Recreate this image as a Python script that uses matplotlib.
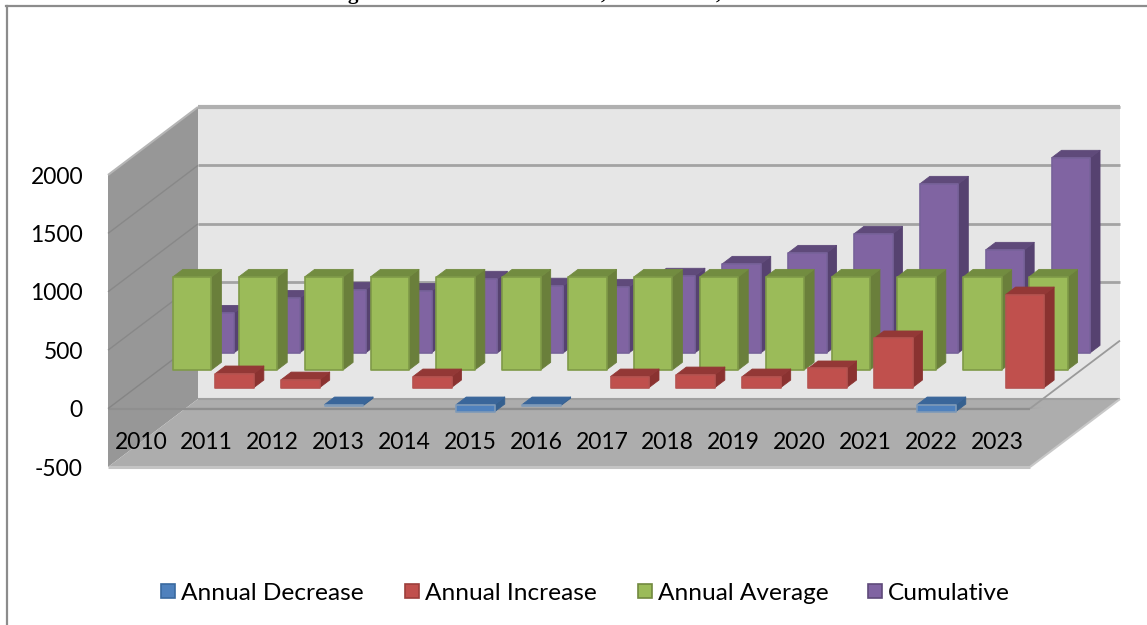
import matplotlib
matplotlib.use('Agg')
import matplotlib.pyplot as plt

years = ['2010','2011','2012','2013','2014','2015','2016','2017','2018','2019','2020','2021','2022','2023']
value_ticks = [-500,0,500,1000,1500,2000]

# values
annual_decrease = [0,0,0,-10,0,-60,-10,0,0,0,0,0,-60,0]
annual_increase = [0,120,68,0,94,0,0,94,111,94,163,420,0,796]
annual_average = [796]*14
cumulative = [342,470,540,530,634,575,565,660,762,856,1019,1447,882,1670]

W, H = 1147, 625
fig = plt.figure(figsize=(W/100, H/100), dpi=100)
plt.rcParams['font.family'] = ['Lato', 'DejaVu Sans']

# front plane of the box in pixels: x 108..1030, y 175..467
ax = fig.add_axes([108/W, 1-467/H, (1030-108)/W, (467-175)/H])
ax.set_xlim(0, 14)
ax.set_ylim(-500, 2000)
for s in ax.spines.values():
    s.set_visible(False)
ax.patch.set_visible(False)

# how far the back of the box sits from the front, in data units
px_x = 14/(1030-108)
px_y = 2500/(467-175)
DX = 90*px_x
DY = 68*px_y
BAR_W = 38.5*px_x

def pt(x, v, d):
    return (x + d*DX, v + d*DY)

def poly(points, face, edge='none', lw=0, z=1):
    xs = [p[0] for p in points]
    ys = [p[1] for p in points]
    ax.fill(xs, ys, facecolor=face, edgecolor=edge, linewidth=lw, clip_on=False, zorder=z, joinstyle='round')

def seg(a, b, color, lw=1.5, z=1.2):
    ax.plot([a[0],b[0]], [a[1],b[1]], color=color, lw=lw, clip_on=False, zorder=z, solid_capstyle='butt')

# walls and floor
poly([pt(0,-500,1),pt(14,-500,1),pt(14,2000,1),pt(0,2000,1)], '#e6e6e6', z=1)
poly([pt(0,-500,0),pt(0,-500,1),pt(0,2000,1),pt(0,2000,0)], '#979797', z=1.05)
poly([pt(0,-500,0),pt(14,-500,0),pt(14,-500,1),pt(0,-500,1)], '#adadad', z=1.1)
seg(pt(0,-500,0), pt(14,-500,0), '#c4c4c4', 2.2, 1.15)
seg(pt(14,-500,0), pt(14,-500,1), '#c8c8c8', 1.5, 1.15)
seg(pt(0,-500,1), pt(14,-500,1), '#a0a0a0', 1.5, 1.12)

for v in value_ticks[2:]:
    seg(pt(0,v,1), pt(14,v,1), '#a3a3a3', 2.0)
    if v < 2000:
        seg(pt(0,v,0), pt(0,v,1), '#888888', 1.0)
seg(pt(0,2000,1), pt(14,2000,1), '#b0b0b0', 3.0)
seg(pt(0,2000,0), pt(0,2000,1), '#b5b5b5', 1.5)

# plane at value 0
seg(pt(0,0,0), pt(14,0,0), '#8f8f8f', 1.6, 1.2)
seg(pt(0,0,0), pt(0,0,1), '#858585', 1.0, 1.2)
seg(pt(14,0,0), pt(14,0,1), '#9a9a9a', 1.3, 1.2)
poly([pt(0.0,0,0),pt(14,0,0),pt(14,-80,0.148),pt(0.9,-80,0.148)], '#a4a4a4', z=1.11)

def bar3d(i, v, d0, front, top, side, edge, z):
    x0 = i + 0.5 - BAR_W/2
    x1 = x0 + BAR_W
    d1 = d0 + 0.11
    hi = max(v, 0)
    lo = min(v, 0)
    poly([pt(x1,lo,d0),pt(x1,lo,d1),pt(x1,hi,d1),pt(x1,hi,d0)], side, edge=side, lw=0.6, z=z)
    poly([pt(x0,hi,d0),pt(x1,hi,d0),pt(x1,hi,d1),pt(x0,hi,d1)], top, edge=top, lw=0.6, z=z)
    poly([pt(x0,lo,d0),pt(x1,lo,d0),pt(x1,hi,d0),pt(x0,hi,d0)], front, edge=edge, lw=1.2, z=z+0.001)

z = 2.0
for i, v in enumerate(cumulative):
    bar3d(i, v, 0.82, '#8064a2', '#5f4a7a', '#564270', '#77629a', z)
    z += 0.002
for i, v in enumerate(annual_average):
    bar3d(i, v, 0.57, '#9bbb59', '#728c40', '#6a7f3b', '#7f9a48', z)
    z += 0.002
for i, v in enumerate(annual_increase):
    if v != 0:
        bar3d(i, v, 0.31, '#c0504d', '#933836', '#8a3230', '#b65350', z)
        z += 0.002
for i, v in enumerate(annual_decrease):
    if v != 0:
        bar3d(i, v, 0.06, '#4f81bd', '#3a669a', '#35608f', '#7f9ab8', z)
        z += 0.002

ax.set_xticks([i+0.5 for i in range(len(years))], years)
ax.set_yticks(value_ticks, [str(v) for v in value_ticks])
ax.tick_params(axis='both', length=0, labelsize=16.5, labelcolor='black')
ax.tick_params(axis='x', pad=-25)
ax.tick_params(axis='y', pad=18)
for lab in ax.get_xticklabels() + ax.get_yticklabels():
    lab.set_zorder(5)
for lab in ax.get_yticklabels():
    lab.set_va('center_baseline')
ax.set_axisbelow(False)

# chart border, only top and left fall inside the picture
fig.add_artist(plt.Line2D([7/W,7/W], [0,1-6/H], color='#8c8c8c', lw=1.6))
fig.add_artist(plt.Line2D([6/W,1], [1-6/H,1-6/H], color='#8c8c8c', lw=1.6))

# cut off caption above the chart, only the descenders show
for ch, px in [('g',353),(',',603),(',',718)]:
    fig.text(px/W, 1+1/H, ch, family='Liberation Serif', weight='bold', fontsize=15, ha='center', va='baseline', color='black')

# legend
legend_names = ['Annual Decrease','Annual Increase','Annual Average','Cumulative']
legend_colors = ['#4f81bd','#c0504d','#9bbb59','#8064a2']
legend_edges = ['#3a6a9f','#9c3f3c','#72893f','#5f4a7a']
legend_x = [161,405,638,868]
for name, c, e, lx in zip(legend_names, legend_colors, legend_edges, legend_x):
    fig.patches.append(plt.Rectangle((lx/W,1-598/H), 14/W, 14/H, transform=fig.transFigure, facecolor=c, edgecolor=e, lw=1.2))
    fig.text((lx+20)/W, 1-591/H, name, fontsize=17.6, va='center_baseline', ha='left', color='black')

fig.savefig('out.png', dpi=100)
